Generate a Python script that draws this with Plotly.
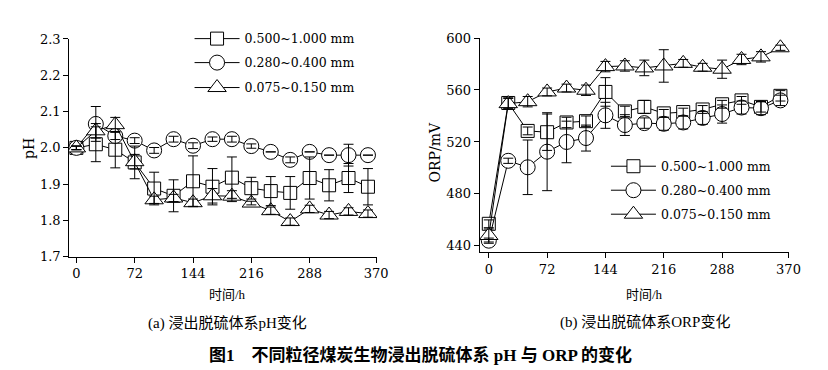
import plotly.graph_objects as go

# ---------------- data ----------------
time_h = [0, 24, 48, 72, 96, 120, 144, 168, 192, 216, 240, 264, 288, 312, 336, 360]
series_names = ["0.500~1.000 mm", "0.280~0.400 mm", "0.075~0.150 mm"]

ph_coarse = [2.00, 2.01, 1.995, 1.96, 1.888, 1.868, 1.908, 1.893, 1.918, 1.889, 1.881, 1.876, 1.917, 1.897, 1.917, 1.893]
ph_coarse_err = [0.005, 0.048, 0.05, 0.045, 0.045, 0.044, 0.07, 0.05, 0.057, 0.03, 0.04, 0.045, 0.058, 0.043, 0.04, 0.05]
ph_medium = [2.00, 2.066, 2.033, 2.02, 1.993, 2.024, 2.006, 2.024, 2.024, 2.005, 1.989, 1.967, 1.989, 1.98, 1.98, 1.98]
ph_medium_err = [0.005, 0.048, 0.01, 0.008, 0.008, 0.008, 0.008, 0.006, 0.008, 0.006, 0.0, 0.008, 0.0, 0.0, 0.03, 0.0]
ph_fine = [2.00, 2.047, 2.064, 1.962, 1.857, 1.862, 1.849, 1.868, 1.867, 1.848, 1.827, 1.797, 1.832, 1.815, 1.825, 1.819]
ph_fine_err = [0.005, 0.02, 0.02, 0.02, 0.01, 0.01, 0.01, 0.02, 0.015, 0.005, 0.01, 0.01, 0.01, 0.01, 0.01, 0.01]

orp_coarse = [457, 550, 528.5, 527.5, 535, 536, 558.5, 543.5, 547, 542, 543, 545, 549, 552, 547, 555.5]
orp_coarse_err = [3, 4, 3, 14, 4, 4, 11, 4, 5, 3, 3, 3, 3, 3, 4, 4]
orp_medium = [444, 505.5, 500.5, 512.5, 520, 523, 540.5, 533, 534.5, 534, 535, 538.5, 541.5, 546.5, 546, 552]
orp_medium_err = [2, 2, 21, 30, 16, 10, 10, 8, 4, 5, 5, 5, 7, 5, 5, 4]
orp_fine = [448, 549.5, 551, 558.5, 561.5, 559.8, 578, 578.5, 577, 578.5, 580.5, 577.5, 576, 583.5, 585.5, 592.5]
orp_fine_err = [5, 4, 4, 3, 3, 4, 4, 4, 6, 12.5, 3, 3, 7, 4, 4, 2]

x_ticks = [0, 72, 144, 216, 288, 370]
ph_ticks = [1.7, 1.8, 1.9, 2.0, 2.1, 2.2, 2.3]
orp_ticks = [440, 480, 520, 560, 600]

# ---------------- style ----------------
W, H = 828, 370
LAT = "DejaVu Serif"
CJK = "Liberation Serif, Noto Sans CJK SC"
symbols = ["square", "circle", "triangle-up"]
msizes = [13, 15, 16]

fig = go.Figure()

def add_panel(xa, ya, ys, errs, legends):
    for i in range(3):
        fig.add_trace(go.Scatter(
            x=time_h, y=ys[i], mode="lines+markers", name=series_names[i],
            xaxis=xa, yaxis=ya, legend=legends[i],
            line=dict(color="black", width=1),
            marker=dict(symbol=symbols[i], size=msizes[i], color="white",
                        line=dict(color="black", width=1)),
        ))
    for i in range(3):
        fig.add_trace(go.Scatter(
            x=time_h, y=ys[i], mode="markers", showlegend=False,
            xaxis=xa, yaxis=ya,
            marker=dict(size=1, color="rgba(0,0,0,0)"),
            error_y=dict(type="data", array=errs[i], visible=True,
                         color="black", thickness=1, width=5),
        ))

add_panel("x", "y", [ph_coarse, ph_medium, ph_fine],
          [ph_coarse_err, ph_medium_err, ph_fine_err],
          ["legend", "legend2", "legend3"])
add_panel("x2", "y2", [orp_coarse, orp_medium, orp_fine],
          [orp_coarse_err, orp_medium_err, orp_fine_err],
          ["legend4", "legend5", "legend6"])

axis_common = dict(showline=True, linecolor="black", linewidth=1, ticks="outside",
                   ticklen=5, tickcolor="black", showgrid=False, zeroline=False,
                   tickfont=dict(family=LAT, size=13, color="black"), mirror=False)

fig.update_layout(
    width=W, height=H, margin=dict(l=0, r=0, t=0, b=0),
    paper_bgcolor="white", plot_bgcolor="white",
    xaxis=dict(domain=[62 / W, 374 / W], range=[-8.9, 371.2], tickvals=x_ticks,
               anchor="y", **axis_common),
    yaxis=dict(domain=[118 / H, 345 / H], range=[1.7, 2.3], tickvals=ph_ticks,
               tickformat=".1f", anchor="x", **axis_common),
    xaxis2=dict(domain=[478 / W, 792 / W], range=[-11.3, 371.2], tickvals=x_ticks,
                anchor="y2", **axis_common),
    yaxis2=dict(domain=[123 / H, 346 / H], range=[435.3, 600], tickvals=orp_ticks,
                anchor="x2", **axis_common),
)

def leg(xpx, ypx):
    return dict(x=xpx / W, y=1 - ypx / H, xanchor="left", yanchor="middle",
                bgcolor="rgba(0,0,0,0)", borderwidth=0, itemwidth=45,
                font=dict(family=LAT, size=12.5, color="black"),
                tracegroupgap=0)

fig.update_layout(
    legend=leg(184, 25), legend2=leg(184, 50), legend3=leg(184, 76),
    legend4=leg(606, 158), legend5=leg(606, 183), legend6=leg(606, 208),
)

def ann(text, xpx, ypx, size, family=CJK, angle=0):
    fig.add_annotation(text=text, x=xpx / W, y=1 - ypx / H, xref="paper", yref="paper",
                       showarrow=False, xanchor="center", yanchor="middle",
                       textangle=angle, font=dict(family=family, size=size, color="black"))

ann("pH", 22, 139, 14, LAT, -90)
ann("ORP/mV", 433, 143, 14, LAT, -90)
ann("时间/h", 222, 291, 13)
ann("时间/h", 645, 291, 13)
ann("(a) 浸出脱硫体系pH变化", 222, 322, 15)
ann("(b) 浸出脱硫体系ORP变化", 646, 321, 15)
ann("<b>图1　不同粒径煤炭生物浸出脱硫体系 pH 与 ORP 的变化</b>", 418, 354, 17)

fig.write_html("out.html")
